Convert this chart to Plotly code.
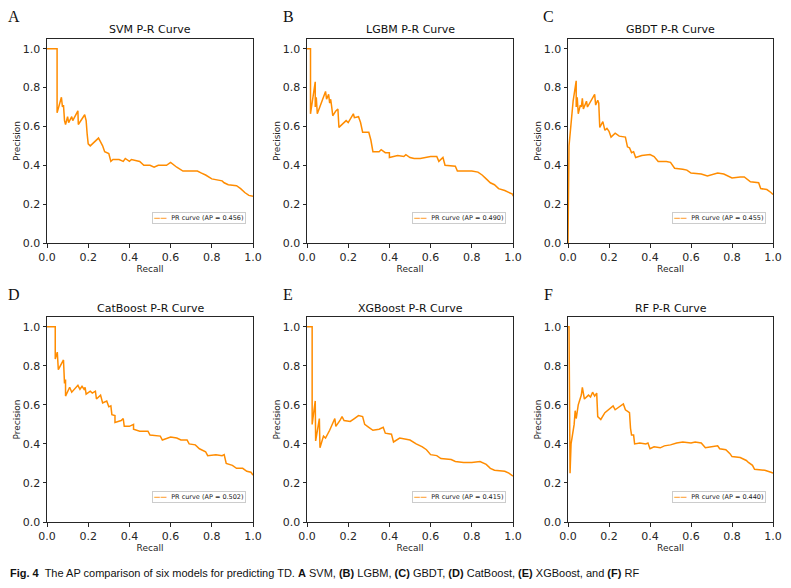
import plotly.graph_objects as go

# ---------------- data ----------------
titles = ["SVM P-R Curve", "LGBM P-R Curve", "GBDT P-R Curve",
          "CatBoost P-R Curve", "XGBoost P-R Curve", "RF P-R Curve"]
panel_letters = ["A", "B", "C", "D", "E", "F"]
ap_values = ["0.456", "0.490", "0.455", "0.502", "0.415", "0.440"]

svm_recall = [0.0, 0.049, 0.049, 0.06, 0.07, 0.075, 0.08, 0.085, 0.09, 0.10, 0.105, 0.12, 0.125, 0.15, 0.152, 0.183, 0.19, 0.195, 0.20,
              0.21, 0.25, 0.26, 0.27, 0.28, 0.30, 0.31, 0.32, 0.35, 0.37, 0.38, 0.40, 0.41, 0.45, 0.47, 0.50, 0.52, 0.54, 0.58,
              0.60, 0.63, 0.66, 0.70, 0.73, 0.75, 0.77, 0.80, 0.85, 0.86, 0.88, 0.92, 0.94, 0.96, 0.98, 1.0]
svm_precision = [1.0, 1.0, 0.67, 0.72, 0.75, 0.70, 0.71, 0.63, 0.61, 0.65, 0.62, 0.65, 0.63, 0.68, 0.61, 0.66, 0.63, 0.56, 0.51,
                 0.50, 0.54, 0.52, 0.50, 0.47, 0.46, 0.42, 0.43, 0.43, 0.42, 0.435, 0.42, 0.43, 0.42, 0.40, 0.40, 0.39, 0.40, 0.40,
                 0.415, 0.39, 0.37, 0.37, 0.37, 0.36, 0.35, 0.33, 0.32, 0.31, 0.30, 0.295, 0.28, 0.26, 0.245, 0.24]

lgbm_recall = [0.0, 0.017, 0.017, 0.04, 0.04, 0.045, 0.05, 0.09, 0.095, 0.105, 0.11, 0.115, 0.12, 0.125, 0.14, 0.15, 0.155, 0.19,
               0.20, 0.21, 0.225, 0.23, 0.25, 0.26, 0.27, 0.30, 0.31, 0.32, 0.35, 0.36, 0.38, 0.40, 0.40, 0.44, 0.47, 0.48, 0.50,
               0.52, 0.55, 0.60, 0.63, 0.64, 0.66, 0.67, 0.70, 0.72, 0.73, 0.80, 0.83, 0.85, 0.87, 0.89, 0.91, 0.93, 0.96, 0.98, 1.0, 1.0]
lgbm_precision = [1.0, 1.0, 0.665, 0.83, 0.70, 0.75, 0.665, 0.78, 0.74, 0.765, 0.72, 0.74, 0.70, 0.655, 0.68, 0.69, 0.595, 0.63,
                  0.62, 0.64, 0.665, 0.645, 0.65, 0.62, 0.57, 0.57, 0.53, 0.47, 0.47, 0.48, 0.465, 0.465, 0.44, 0.45, 0.445, 0.455, 0.44,
                  0.435, 0.435, 0.445, 0.445, 0.42, 0.44, 0.40, 0.395, 0.395, 0.37, 0.37, 0.365, 0.35, 0.33, 0.31, 0.30, 0.28, 0.27, 0.26, 0.25, 0.24]

gbdt_recall = [0.0, 0.005, 0.025, 0.04, 0.04, 0.045, 0.05, 0.06, 0.065, 0.07, 0.075, 0.09, 0.095, 0.115, 0.13, 0.135, 0.145, 0.15,
               0.155, 0.17, 0.18, 0.19, 0.20, 0.21, 0.23, 0.25, 0.28, 0.29, 0.30, 0.31, 0.32, 0.33, 0.36, 0.40, 0.42, 0.44, 0.48,
               0.50, 0.52, 0.56, 0.58, 0.60, 0.65, 0.68, 0.73, 0.76, 0.80, 0.84, 0.86, 0.89, 0.93, 0.94, 0.97, 0.99, 1.0]
gbdt_precision = [0.0, 0.50, 0.73, 0.835, 0.70, 0.75, 0.665, 0.71, 0.70, 0.745, 0.69, 0.73, 0.70, 0.74, 0.765, 0.71, 0.735, 0.72,
                  0.595, 0.625, 0.58, 0.59, 0.575, 0.545, 0.565, 0.55, 0.545, 0.495, 0.49, 0.465, 0.47, 0.44, 0.45, 0.455, 0.445, 0.42, 0.42,
                  0.415, 0.385, 0.38, 0.375, 0.36, 0.355, 0.345, 0.36, 0.355, 0.335, 0.34, 0.34, 0.315, 0.31, 0.28, 0.275, 0.26, 0.25]

cat_recall = [0.0, 0.04, 0.04, 0.05, 0.055, 0.065, 0.08, 0.085, 0.09, 0.09, 0.11, 0.12, 0.14, 0.15, 0.16, 0.17, 0.18, 0.185, 0.19,
              0.21, 0.22, 0.235, 0.24, 0.26, 0.27, 0.29, 0.30, 0.31, 0.315, 0.33, 0.33, 0.36, 0.37, 0.375, 0.40, 0.42, 0.42, 0.45,
              0.49, 0.50, 0.55, 0.56, 0.60, 0.63, 0.65, 0.68, 0.69, 0.72, 0.74, 0.77, 0.78, 0.82, 0.85, 0.86, 0.87, 0.90, 0.92,
              0.95, 0.97, 0.99, 1.0]
cat_precision = [1.0, 1.0, 0.835, 0.87, 0.78, 0.80, 0.83, 0.71, 0.73, 0.645, 0.69, 0.665, 0.69, 0.70, 0.68, 0.695, 0.68, 0.69, 0.655,
                 0.67, 0.66, 0.67, 0.63, 0.65, 0.61, 0.62, 0.59, 0.595, 0.55, 0.545, 0.51, 0.52, 0.53, 0.49, 0.49, 0.50, 0.475, 0.465,
                 0.465, 0.445, 0.44, 0.42, 0.435, 0.43, 0.42, 0.42, 0.40, 0.395, 0.375, 0.36, 0.34, 0.345, 0.34, 0.345, 0.30, 0.29, 0.275,
                 0.275, 0.26, 0.255, 0.24]

xgb_recall = [0.0, 0.025, 0.025, 0.035, 0.04, 0.042, 0.05, 0.06, 0.063, 0.08, 0.09, 0.11, 0.135, 0.14, 0.16, 0.17, 0.18, 0.21,
              0.23, 0.25, 0.27, 0.28, 0.30, 0.32, 0.35, 0.37, 0.38, 0.41, 0.42, 0.45, 0.50, 0.53, 0.56, 0.58, 0.60, 0.63, 0.65,
              0.70, 0.72, 0.76, 0.80, 0.84, 0.87, 0.89, 0.91, 0.96, 0.98, 1.0]
xgb_precision = [1.0, 1.0, 0.50, 0.60, 0.62, 0.415, 0.47, 0.53, 0.38, 0.44, 0.43, 0.47, 0.53, 0.49, 0.52, 0.54, 0.52, 0.515,
                 0.53, 0.545, 0.54, 0.50, 0.485, 0.47, 0.475, 0.485, 0.455, 0.45, 0.41, 0.43, 0.42, 0.40, 0.385, 0.37, 0.345, 0.34, 0.325,
                 0.32, 0.31, 0.305, 0.305, 0.31, 0.295, 0.275, 0.265, 0.26, 0.25, 0.235]

rf_recall = [0.0, 0.005, 0.01, 0.015, 0.03, 0.035, 0.04, 0.05, 0.065, 0.07, 0.08, 0.10, 0.11, 0.12, 0.13, 0.14, 0.145, 0.16,
             0.18, 0.21, 0.22, 0.23, 0.25, 0.27, 0.28, 0.30, 0.305, 0.31, 0.32, 0.325, 0.35, 0.38, 0.39, 0.40, 0.42, 0.45, 0.47,
             0.50, 0.53, 0.56, 0.60, 0.62, 0.65, 0.67, 0.70, 0.73, 0.74, 0.77, 0.79, 0.80, 0.84, 0.87, 0.88, 0.90, 0.91, 0.96,
             0.99, 1.0]
rf_precision = [1.0, 1.0, 0.25, 0.40, 0.50, 0.57, 0.53, 0.60, 0.65, 0.69, 0.63, 0.65, 0.64, 0.665, 0.645, 0.66, 0.54, 0.525,
                0.56, 0.59, 0.595, 0.575, 0.59, 0.605, 0.575, 0.56, 0.48, 0.445, 0.445, 0.40, 0.405, 0.40, 0.405, 0.375, 0.385, 0.38, 0.39,
                0.395, 0.405, 0.41, 0.405, 0.41, 0.405, 0.38, 0.385, 0.39, 0.375, 0.37, 0.35, 0.335, 0.33, 0.315, 0.305, 0.29, 0.27, 0.265,
                0.255, 0.25]

recalls = [svm_recall, lgbm_recall, gbdt_recall, cat_recall, xgb_recall, rf_recall]
precisions = [svm_precision, lgbm_precision, gbdt_precision, cat_precision, xgb_precision, rf_precision]

x_ticks = [0.0, 0.2, 0.4, 0.6, 0.8, 1.0]
y_ticks = [0.0, 0.2, 0.4, 0.6, 0.8, 1.0]
tick_text = ["0.0", "0.2", "0.4", "0.6", "0.8", "1.0"]

caption = ("<b>Fig. 4</b>  The AP comparison of six models for predicting TD. <b>A</b> SVM, <b>(B)</b> LGBM, "
           "<b>(C)</b> GBDT, <b>(D)</b> CatBoost, <b>(E)</b> XGBoost, and <b>(F)</b> RF")

# ---------------- layout ----------------
W, H = 791, 588
col_px = [(47, 253), (307, 513), (568, 773)]
row_px = [(39, 243), (317, 522)]
title_y_px = [29, 308]
letter_x_px = [14, 288, 548]
letter_y_px = [17, 295]

ORANGE = "#FF8C00"
FONT = "DejaVu Sans"
AXC = "#262626"

fig = go.Figure()
layout = dict(width=W, height=H, margin=dict(l=0, r=0, t=0, b=0),
              paper_bgcolor="white", plot_bgcolor="white", showlegend=False)
annotations = []

for i in range(6):
    r, c = divmod(i, 3)
    n = i + 1
    xa = "x" if n == 1 else f"x{n}"
    ya = "y" if n == 1 else f"y{n}"
    x0, x1 = col_px[c]
    y0, y1 = row_px[r]
    dom_x = [x0 / W, x1 / W]
    dom_y = [1 - y1 / H, 1 - y0 / H]

    fig.add_trace(go.Scatter(x=recalls[i], y=precisions[i], mode="lines",
                             line=dict(color=ORANGE, width=1.5),
                             name=f"PR curve (AP = {ap_values[i]})",
                             xaxis=xa, yaxis=ya))

    axis_common = dict(showgrid=False, zeroline=False, showline=True, mirror=True,
                       linecolor=AXC, linewidth=1, ticks="outside", ticklen=3.5,
                       tickcolor=AXC, tickwidth=1, automargin=False,
                       tickfont=dict(family=FONT, size=11, color=AXC))
    layout["xaxis" if n == 1 else f"xaxis{n}"] = dict(
        domain=dom_x, range=[0, 1], tickvals=x_ticks, ticktext=tick_text, anchor=ya,
        title=dict(text="Recall", font=dict(family=FONT, size=9, color=AXC), standoff=0),
        **axis_common)
    layout["yaxis" if n == 1 else f"yaxis{n}"] = dict(
        domain=dom_y, range=[0, 1.05], tickvals=y_ticks, ticktext=tick_text, anchor=xa,
        title=dict(text="Precision", font=dict(family=FONT, size=9, color=AXC), standoff=0),
        **axis_common)

    # legend box in the lower right of each panel
    legend_text = (f"<span style='color:{ORANGE}'><b>——</b></span>  "
                   f"PR curve (AP = {ap_values[i]})")
    annotations.append(dict(text=legend_text, x=(x1 - 7) / W, y=1 - (y1 - 25) / H,
                            xref="paper", yref="paper", showarrow=False,
                            xanchor="right", yanchor="middle",
                            bgcolor="white", bordercolor="#cccccc", borderwidth=1, borderpad=1,
                            font=dict(family=FONT, size=6.5, color="#222")))

    annotations.append(dict(text=titles[i], x=(x0 + x1) / 2 / W, y=1 - title_y_px[r] / H,
                            xref="paper", yref="paper", showarrow=False,
                            xanchor="center", yanchor="middle",
                            font=dict(family=FONT, size=11, color="#111")))
    annotations.append(dict(text=panel_letters[i], x=letter_x_px[c] / W, y=1 - letter_y_px[r] / H,
                            xref="paper", yref="paper", showarrow=False,
                            xanchor="center", yanchor="middle",
                            font=dict(family="Liberation Serif", size=16, color="#111")))

annotations.append(dict(text=caption, x=8 / W, y=1 - 573 / H, xref="paper", yref="paper",
                        showarrow=False, xanchor="left", yanchor="middle",
                        font=dict(family="Liberation Sans", size=11, color="#111")))
layout["annotations"] = annotations

fig.update_layout(**layout)
fig.write_html("out.html", config={"displayModeBar": False},
               post_script="document.body.style.margin='0';")
